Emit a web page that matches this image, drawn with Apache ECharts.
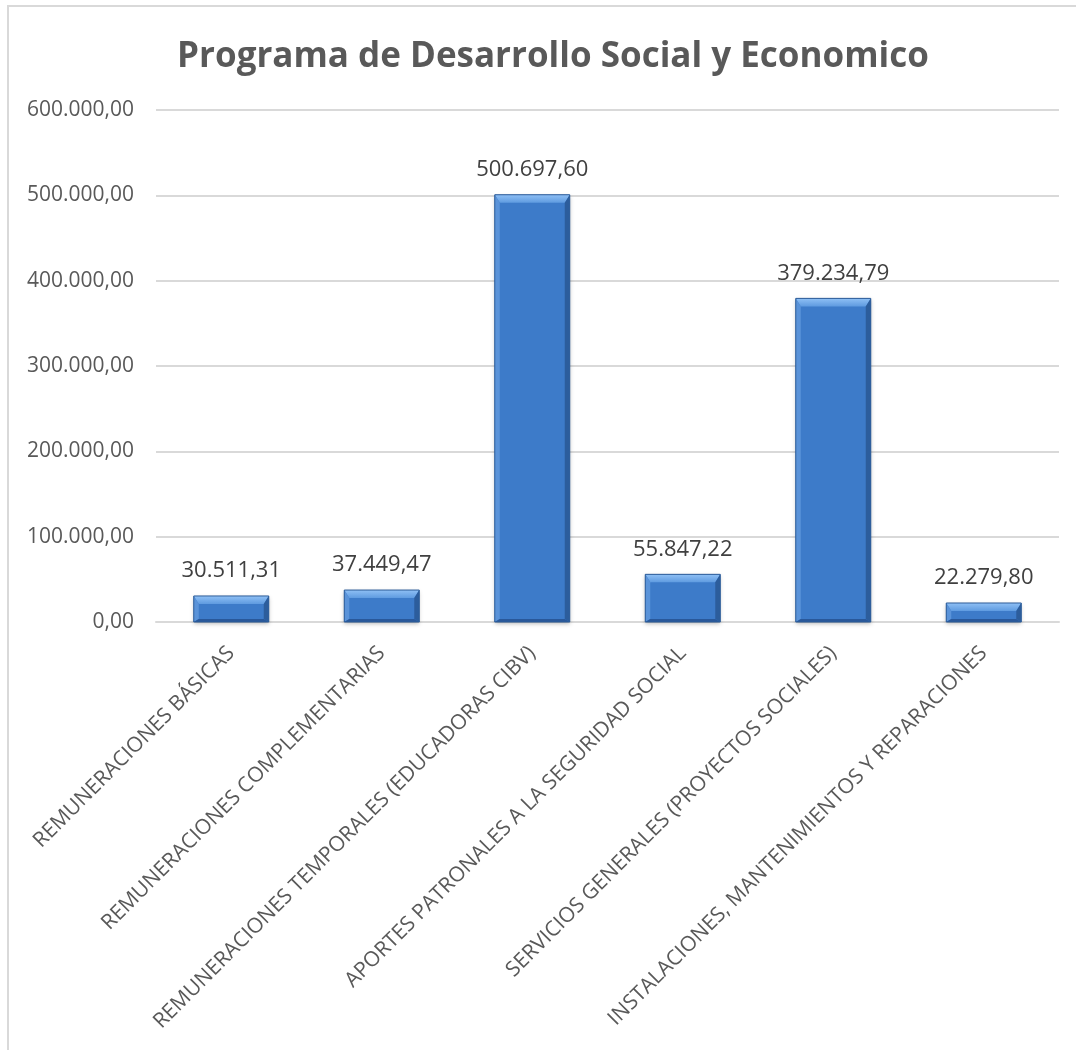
<!DOCTYPE html>
<html><head><meta charset="utf-8">
<script src="https://cdn.jsdelivr.net/npm/echarts@6/dist/echarts.min.js"></script>
<style>
html,body{margin:0;padding:0;background:#fff;}
#frame{position:absolute;left:7px;top:5px;width:1069px;height:1045px;border-top:2px solid #d9d9d9;border-left:2px solid #d9d9d9;box-sizing:border-box;}
#c{position:absolute;left:0;top:0;width:1076px;height:1050px;}
</style></head>
<body>
<div id="frame"></div>
<div id="c"></div>
<script>
const titleText = 'Programa de Desarrollo Social y Economico';
const categories = [
  'REMUNERACIONES BÁSICAS',
  'REMUNERACIONES COMPLEMENTARIAS',
  'REMUNERACIONES TEMPORALES (EDUCADORAS CIBV)',
  'APORTES PATRONALES A LA SEGURIDAD SOCIAL',
  'SERVICIOS GENERALES (PROYECTOS SOCIALES)',
  'INSTALACIONES, MANTENIMIENTOS Y REPARACIONES'
];
const values = [30511.31, 37449.47, 500697.60, 55847.22, 379234.79, 22279.80];
const yTicks = [0, 100000, 200000, 300000, 400000, 500000, 600000];

function fmt(v){
  const parts = v.toFixed(2).split('.');
  const intPart = parts[0].replace(/\B(?=(\d{3})+(?!\d))/g, '.');
  return intPart + ',' + parts[1];
}

const chart = echarts.init(document.getElementById('c'));
const font = '"Open Sans", "Noto Sans", sans-serif';
const BAR_W = 75;

function bevel(params, api){
  const idx = api.value(0), val = api.value(1);
  const top = api.coord([idx, val]);
  const base = api.coord([idx, 0]);
  const x0 = top[0] - BAR_W/2, x1 = top[0] + BAR_W/2;
  const y0 = top[1], y1 = base[1];
  const h = y1 - y0;
  const b = Math.min(8, h/2);
  const s = 5;
  return {type:'group', children:[
    {type:'polygon', shape:{points:[[x0,y0],[x1,y0],[x1-s,y0+b],[x0+s,y0+b]]},
      style:{fill:new echarts.graphic.LinearGradient(0,0,0,1,[{offset:0,color:'#8fc0f5'},{offset:1,color:'#5f9be0'}])}},
    {type:'polygon', shape:{points:[[x0,y0],[x0+s,y0+b],[x0+s,y1-3],[x0,y1]]},
      style:{fill:'#5a93d9'}},
    {type:'polygon', shape:{points:[[x1,y0],[x1-s,y0+b],[x1-s,y1-3],[x1,y1]]},
      style:{fill:'#2c5d9c'}},
    {type:'polygon', shape:{points:[[x0,y1],[x0+s,y1-3],[x1-s,y1-3],[x1,y1]]},
      style:{fill:'#29589a'}},
    {type:'rect', shape:{x:x0,y:y0,width:BAR_W,height:h},
      style:{fill:'none',stroke:'#2d5c98',lineWidth:1}}
  ]};
}

chart.setOption({
  animation:false,
  title:{text:titleText,left:548,top:35,textAlign:'center',
    textStyle:{fontFamily:font,fontWeight:'bold',fontSize:35,color:'#595959'}},
  grid:{left:156,right:17,top:110,bottom:428,containLabel:false},
  xAxis:{type:'category',data:categories,
    axisLine:{show:true,lineStyle:{color:'#d9d9d9',width:2}},
    axisTick:{show:false},
    axisLabel:{rotate:45,interval:0,margin:28,fontFamily:font,fontSize:21,color:'#595959'}},
  yAxis:{type:'value',min:yTicks[0],max:yTicks[yTicks.length-1],interval:100000,
    axisLine:{show:false},axisTick:{show:false},
    splitLine:{lineStyle:{color:'#d9d9d9',width:2}},
    axisLabel:{margin:22,fontFamily:font,fontSize:21,color:'#595959',formatter:fmt}},
  series:[{
    type:'bar',data:values,barWidth:BAR_W,
    itemStyle:{
      color:'#3d7bc9',
      shadowColor:'rgba(0,0,0,0.25)',shadowBlur:4,shadowOffsetY:2
    },
    label:{show:true,position:'top',distance:14,fontFamily:font,fontSize:22,color:'#404040',formatter:p=>fmt(p.value)},
    z:2
  },{
    type:'custom',renderItem:bevel,silent:true,z:3,
    data:values.map((v,i)=>[i,v])
  }]
});
</script>
</body></html>
